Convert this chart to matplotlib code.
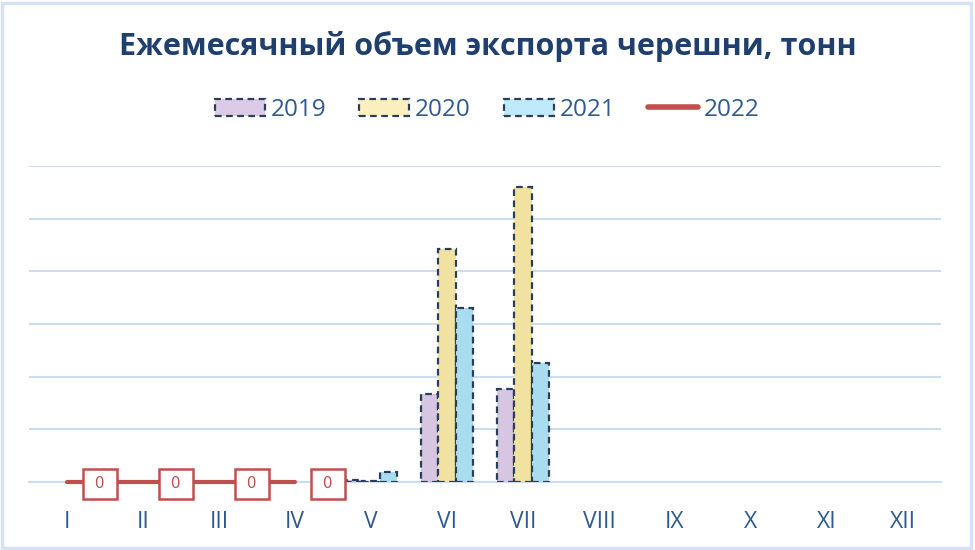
import numpy as np
import matplotlib
matplotlib.use("Agg")
from matplotlib import pyplot as plt
from matplotlib.patches import Rectangle

months = ["I", "II", "III", "IV", "V", "VI", "VII", "VIII", "IX", "X", "XI", "XII"]
exp_2019 = [np.nan, np.nan, np.nan, np.nan, 30, 1680, 1770, np.nan, np.nan, np.nan, np.nan, np.nan]
exp_2020 = [np.nan, np.nan, np.nan, np.nan, 20, 4420, 5600, np.nan, np.nan, np.nan, np.nan, np.nan]
exp_2021 = [np.nan, np.nan, np.nan, np.nan, 190, 3300, 2260, np.nan, np.nan, np.nan, np.nan, np.nan]
exp_2022 = [0, 0, 0, 0]

navy = "#1f3f6e"
grid_col = "#c6dbf0"
edge = "#2b3d5c"

fig = plt.figure(figsize=(9.75, 5.5), dpi=100)
ax = fig.add_axes([29 / 975, 68 / 550, 912 / 975, 316 / 550])

x = np.arange(len(months))
w = 0.23
for k, (vals, col) in enumerate([(exp_2019, "#d6c6e2"), (exp_2020, "#f2e2a2"), (exp_2021, "#a9dcee")]):
    ax.bar(x + (k - 1) * w, vals, w, color=col, edgecolor=edge,
           linestyle=(0, (3, 2)), linewidth=1.6, zorder=3)

x22 = np.arange(len(exp_2022))
ax.plot(x22, exp_2022, color="#c0504d", lw=3, zorder=4, solid_capstyle="round", clip_on=False)
for xi, v in zip(x22, exp_2022):
    ax.annotate(f" {v} ", (xi, v), xytext=(33, -2), textcoords="offset pixels",
                ha="center", va="center", color="#c0504d", fontsize=11,
                bbox=dict(boxstyle="square,pad=0.5", fc="white", ec="#c0504d", lw=1.8),
                zorder=5, annotation_clip=False)

ax.set_xlim(-0.5, 11.5)
ax.set_ylim(0, 6000)
ax.set_yticks(np.arange(0, 6001, 1000))
ax.set_yticklabels([])
ax.grid(axis="y", color=grid_col, lw=1.3, zorder=0)
ax.set_xticks(x)
ax.set_xticklabels(months, color="#2f5a8f", fontsize=16.5, family="Open Sans")
ax.tick_params(axis="x", length=0, pad=20)
ax.tick_params(axis="y", length=0)
for s in ["left", "right", "top"]:
    ax.spines[s].set_visible(False)
ax.spines["bottom"].set_color(grid_col)
ax.spines["bottom"].set_linewidth(1.3)

fig.text(0.5, 1 - 47 / 550, "Ежемесячный объем экспорта черешни, тонн", ha="center", va="center",
         fontsize=22, fontweight="bold", color=navy, family="Open Sans")

handles = [
    Rectangle((0, 0), 1, 1, fc="#dccbe6", ec=edge, ls=(0, (3, 2)), lw=1.6),
    Rectangle((0, 0), 1, 1, fc="#fbf0bd", ec=edge, ls=(0, (3, 2)), lw=1.6),
    Rectangle((0, 0), 1, 1, fc="#bfeafa", ec=edge, ls=(0, (3, 2)), lw=1.6),
    plt.Line2D([0], [0], color="#c0504d", lw=4, solid_capstyle="round"),
]
leg = fig.legend(handles, ["2019", "2020", "2021", "2022"], loc="center",
                 bbox_to_anchor=(0.5, 1 - 110 / 550), ncol=4, frameon=False,
                 prop={"family": "Open Sans", "size": 17.5}, handlelength=2.05,
                 handleheight=0.75, handletextpad=0.25, columnspacing=1.35)
for t in leg.get_texts():
    t.set_color("#2f5a8f")

fig.patches.append(Rectangle((0.002, 0.004), 0.994, 0.99, transform=fig.transFigure,
                             fill=False, ec="#d5e2f3", lw=2.5))

fig.savefig("out.png", dpi=100)
